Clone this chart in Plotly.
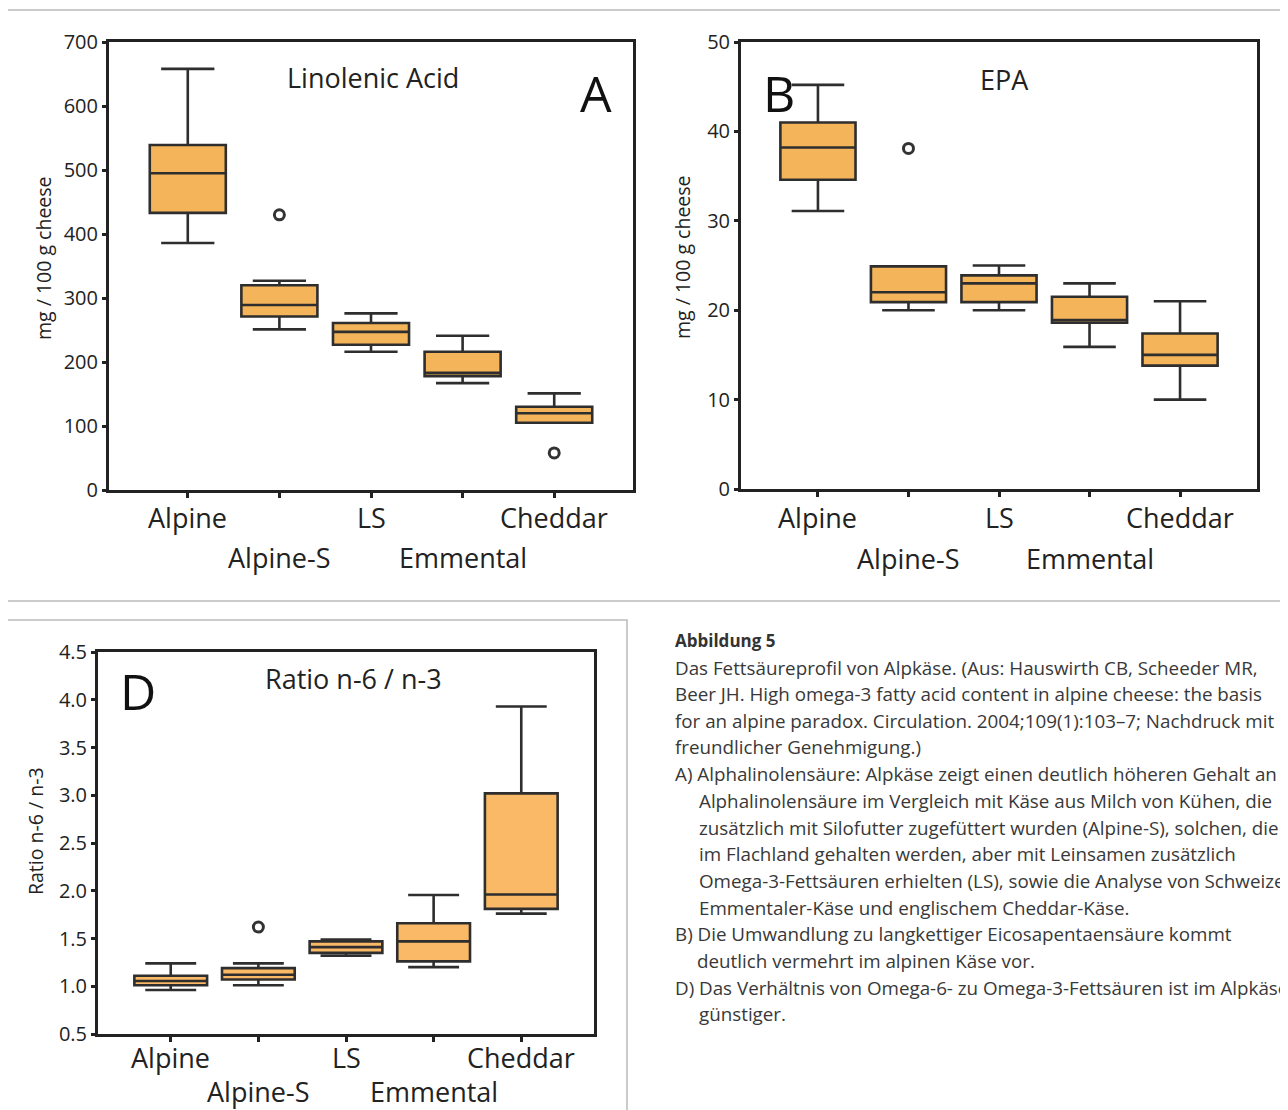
import plotly.graph_objects as go

W, H = 1288, 1110
OFF = 8  # page body margin of the browser
FONT = "Open Sans"
DARK = "#222222"

cats = ["Alpine", "Alpine-S", "LS", "Emmental", "Cheddar"]
row1 = ["Alpine", "LS", "Cheddar"]
row2 = ["Alpine-S", "Emmental"]

# Panel A: Linolenic acid (mg / 100 g cheese)
A_low = [386, 251, 216, 167, 105]
A_q1 = [433, 271, 227, 178, 105]
A_med = [495, 289, 247, 183, 120]
A_q3 = [539, 320, 261, 216, 130]
A_high = [658, 327, 276, 241, 151]
A_out_x = ["Alpine-S", "Cheddar"]
A_out_y = [430, 58]

# Panel B: EPA (mg / 100 g cheese)
B_low = [31.1, 20.0, 20.0, 15.9, 10.0]
B_q1 = [34.6, 20.9, 20.9, 18.6, 13.8]
B_med = [38.2, 22.0, 23.0, 18.9, 15.0]
B_q3 = [41.0, 24.9, 23.9, 21.5, 17.4]
B_high = [45.2, 24.9, 25.0, 23.0, 21.0]
B_out_x = ["Alpine-S"]
B_out_y = [38.1]

# Panel D: Ratio n-6 / n-3
D_low = [0.96, 1.01, 1.32, 1.20, 1.76]
D_q1 = [1.01, 1.07, 1.35, 1.26, 1.81]
D_med = [1.055, 1.12, 1.41, 1.47, 1.96]
D_q3 = [1.11, 1.19, 1.47, 1.66, 3.02]
D_high = [1.24, 1.24, 1.49, 1.955, 3.93]
D_out_x = ["Alpine-S"]
D_out_y = [1.62]

A_ticks = [0, 100, 200, 300, 400, 500, 600, 700]
B_ticks = [0, 10, 20, 30, 40, 50]
D_ticks = [0.5, 1.0, 1.5, 2.0, 2.5, 3.0, 3.5, 4.0, 4.5]
D_ticktext = ["0.5", "1.0", "1.5", "2.0", "2.5", "3.0", "3.5", "4.0", "4.5"]

caption_title = ("Abbildung 5", 673, 641)
caption = [
    ("Das Fettsäureprofil von Alpkäse. (Aus: Hauswirth CB, Scheeder MR,", 673, 668),
    ("Beer JH. High omega-3 fatty acid content in alpine cheese: the basis", 673, 694),
    ("for an alpine paradox. Circulation. 2004;109(1):103–7; Nachdruck mit", 673, 721),
    ("freundlicher Genehmigung.)", 673, 747),
    ("A) Alphalinolensäure: Alpkäse zeigt einen deutlich höheren Gehalt an", 673, 774),
    ("Alphalinolensäure im Vergleich mit Käse aus Milch von Kühen, die", 697, 801),
    ("zusätzlich mit Silofutter zugefüttert wurden (Alpine-S), solchen, die", 697, 828),
    ("im Flachland gehalten werden, aber mit Leinsamen zusätzlich", 697, 854),
    ("Omega-3-Fettsäuren erhielten (LS), sowie die Analyse von Schweizer", 697, 881),
    ("Emmentaler-Käse und englischem Cheddar-Käse.", 697, 908),
    ("B) Die Umwandlung zu langkettiger Eicosapentaensäure kommt", 673, 934),
    ("deutlich vermehrt im alpinen Käse vor.", 695, 961),
    ("D) Das Verhältnis von Omega-6- zu Omega-3-Fettsäuren ist im Alpkäse", 673, 988),
    ("günstiger.", 697, 1014),
]


def px(x):
    return (x - OFF) / W


def py(y):
    return 1 - (y - OFF) / H


fig = go.Figure()

panels = [
    dict(ax="", low=A_low, q1=A_q1, med=A_med, q3=A_q3, high=A_high, ox=A_out_x, oy=A_out_y,
         fill="#F4B45A", xd=(109, 633), yd=(42, 490), rng=[0, 700], ticks=A_ticks, tt=[str(t) for t in A_ticks],
         xr=[-0.86, 4.86], title="Linolenic Acid", tpos=(373, 77), letter="A", lpos=(596, 93),
         ytitle="mg / 100 g cheese", ytpos=(43, 258), r1=518, r2=557),
    dict(ax="2", low=B_low, q1=B_q1, med=B_med, q3=B_q3, high=B_high, ox=B_out_x, oy=B_out_y,
         fill="#F4B45A", xd=(741, 1257), yd=(42, 489), rng=[0, 50], ticks=B_ticks, tt=[str(t) for t in B_ticks],
         xr=[-0.85, 4.85], title="EPA", tpos=(1005, 79), letter="B", lpos=(779, 93),
         ytitle="mg / 100 g cheese", ytpos=(682, 257), r1=517, r2=558),
    dict(ax="3", low=D_low, q1=D_q1, med=D_med, q3=D_q3, high=D_high, ox=D_out_x, oy=D_out_y,
         fill="#F9B966", xd=(98, 594), yd=(652, 1034), rng=[0.5, 4.5], ticks=D_ticks, tt=D_ticktext,
         xr=[-0.83, 4.83], title="Ratio n-6 / n-3", tpos=(353, 678), letter="D", lpos=(138, 691),
         ytitle="Ratio n-6 / n-3", ytpos=(35, 831), r1=1057, r2=1091),
]

annotations = []
for p in panels:
    xa = "x" + p["ax"]
    ya = "y" + p["ax"]
    fig.add_trace(go.Box(
        x=cats, q1=p["q1"], median=p["med"], q3=p["q3"],
        lowerfence=p["low"], upperfence=p["high"],
        boxpoints=False, width=0.83, whiskerwidth=0.7,
        fillcolor=p["fill"], line=dict(color="#2e2e2e", width=2.6),
        xaxis=xa, yaxis=ya, showlegend=False, hoverinfo="skip",
    ))
    fig.add_trace(go.Scatter(
        x=p["ox"], y=p["oy"], mode="markers",
        marker=dict(symbol="circle-open", size=10, color="#333333", line=dict(width=3, color="#333333")),
        xaxis=xa, yaxis=ya, showlegend=False, hoverinfo="skip",
    ))
    axis_common = dict(showline=True, linewidth=3, linecolor=DARK, mirror=True,
                       showgrid=False, zeroline=False, ticks="outside", tickwidth=2.5,
                       tickcolor=DARK, automargin=False)
    fig.update_layout(**{
        ("xaxis" + p["ax"]): dict(domain=[px(p["xd"][0]), px(p["xd"][1])], anchor=ya,
                                  type="category", categoryorder="array", categoryarray=cats,
                                  range=p["xr"], tickvals=cats, showticklabels=False, ticklen=5,
                                  **axis_common),
        ("yaxis" + p["ax"]): dict(domain=[py(p["yd"][1]), py(p["yd"][0])], anchor=xa,
                                  range=p["rng"], tickvals=p["ticks"], ticktext=p["tt"], ticklen=4,
                                  tickfont=dict(family=FONT, size=20, color=DARK),
                                  **axis_common),
    })
    for c in row1:
        annotations.append(dict(x=c, xref=xa, y=py(p["r1"]), yref="paper", text=c, showarrow=False,
                                xanchor="center", yanchor="middle",
                                font=dict(family=FONT, size=27, color=DARK)))
    for c in row2:
        annotations.append(dict(x=c, xref=xa, y=py(p["r2"]), yref="paper", text=c, showarrow=False,
                                xanchor="center", yanchor="middle",
                                font=dict(family=FONT, size=27, color=DARK)))
    annotations.append(dict(x=px(p["tpos"][0]), y=py(p["tpos"][1]), xref="paper", yref="paper",
                            text=p["title"], showarrow=False, xanchor="center", yanchor="middle",
                            font=dict(family=FONT, size=27, color=DARK)))
    annotations.append(dict(x=px(p["lpos"][0]), y=py(p["lpos"][1]), xref="paper", yref="paper",
                            text=p["letter"], showarrow=False, xanchor="center", yanchor="middle",
                            font=dict(family=FONT, size=50, color="#111111")))
    annotations.append(dict(x=px(p["ytpos"][0]), y=py(p["ytpos"][1]), xref="paper", yref="paper",
                            text=p["ytitle"], showarrow=False, xanchor="center", yanchor="middle",
                            textangle=-90, font=dict(family=FONT, size=19.5, color=DARK)))

t, x, y = caption_title
annotations.append(dict(x=px(x), y=py(y), xref="paper", yref="paper", text="<b>" + t + "</b>",
                        showarrow=False, xanchor="left", yanchor="middle", align="left",
                        font=dict(family=FONT, size=17, color="#333333")))
for text, x, y in caption:
    annotations.append(dict(x=px(x), y=py(y), xref="paper", yref="paper", text=text,
                            showarrow=False, xanchor="left", yanchor="middle", align="left",
                            font=dict(family=FONT, size=18.8, color="#383838")))

shapes = [
    dict(type="rect", xref="paper", yref="paper", x0=px(7), x1=px(1310), y0=py(601), y1=py(10),
         line=dict(color="#BBBBBB", width=1.5), fillcolor="rgba(0,0,0,0)", layer="below"),
    dict(type="rect", xref="paper", yref="paper", x0=px(7), x1=px(627), y0=py(1125), y1=py(620),
         line=dict(color="#BBBBBB", width=1.5), fillcolor="rgba(0,0,0,0)", layer="below"),
]

fig.update_layout(
    width=W, height=H, margin=dict(l=0, r=0, t=0, b=0, pad=0, autoexpand=False),
    paper_bgcolor="white", plot_bgcolor="white",
    annotations=annotations, shapes=shapes, showlegend=False,
    font=dict(family=FONT, color=DARK),
)

fig.write_html("out.html")
